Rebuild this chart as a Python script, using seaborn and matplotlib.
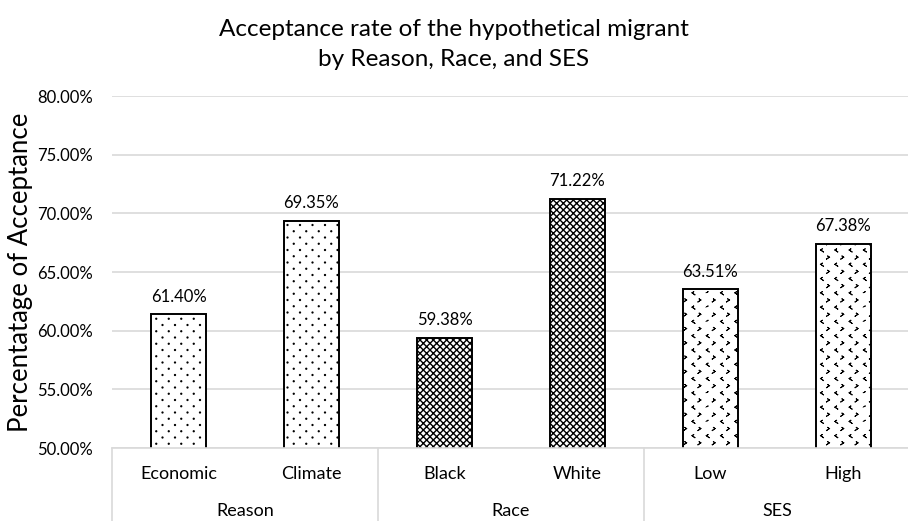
import warnings

import matplotlib
matplotlib.use("Agg")
import matplotlib.pyplot as plt
import matplotlib.hatch as mhatch
import matplotlib.transforms as mtransforms
from matplotlib.path import Path
import numpy as np
import pandas as pd
import seaborn as sns

# ---- data -------------------------------------------------------------
categories = ["Economic", "Climate", "Black", "White", "Low", "High"]
groups = ["Reason", "Reason", "Race", "Race", "SES", "SES"]
acceptance = [61.40, 69.35, 59.38, 71.22, 63.51, 67.38]
y_ticks = [50, 55, 60, 65, 70, 75, 80]

title = "Acceptance rate of the hypothetical migrant\nby Reason, Race, and SES"
y_label = "Percentatage of Acceptance"


# ---- custom staggered-lattice hatches ---------------------------------
class LatticeHatch(mhatch.HatchPatternBase):
    """Staggered lattice of small marks; rows/cols are per hatch tile."""
    char = None
    rows = 16
    cols = 8

    def __init__(self, hatch, density):
        n = hatch.count(self.char) if self.char else 0
        if n == 0:
            self.num_vertices = 0
            return
        self.R = self.rows * n
        self.C = self.cols * n
        n_shapes = sum(self.C + 1 if i % 2 == 0 else self.C for i in range(self.R + 1))
        self.num_vertices = n_shapes * len(self.shape(0)[0])

    def set_vertices_and_codes(self, vertices, codes):
        dx = 1.0 / self.C
        v_parts, c_parts = [], []
        for i, y in enumerate(np.linspace(0.0, 1.0, self.R + 1)):
            if i % 2 == 0:
                xs = np.linspace(0.0, 1.0, self.C + 1)
            else:
                xs = np.linspace(dx / 2, 1 - dx / 2, self.C)
            v, c = self.shape(i)
            for x in xs:
                v_parts.append(v + np.array([x, y]))
                c_parts.append(c)
        vertices[:] = np.concatenate(v_parts)
        codes[:] = np.concatenate(c_parts)


class DotHatch(LatticeHatch):
    char = ","
    rows = 16
    cols = 8

    def shape(self, i):
        circ = Path.unit_circle()
        return circ.vertices * 0.005, circ.codes


class ChevronHatch(LatticeHatch):
    char = "<"
    rows = 14
    cols = 7

    def shape(self, i):
        w, h = 0.008, 0.011
        s = 1 if i % 2 == 0 else -1
        a, b, c = [-s * w, h], [s * w, 0.0], [-s * w, -h]
        # out and back along the same strokes so the mark has no filled area
        v = np.array([a, b, c, b, a])
        codes = np.array([Path.MOVETO] + [Path.LINETO] * 4, dtype=Path.code_type)
        return v, codes


for cls in (DotHatch, ChevronHatch):
    if cls not in mhatch._hatch_types:
        mhatch._hatch_types.append(cls)
warnings.filterwarnings("ignore", message=".*hatch must consist.*")

hatches = [",", ",", "xxxxx", "xxxxx", "<", "<"]
hatch_widths = [0.9, 0.9, 1.0, 1.0, 0.7, 0.7]

df = pd.DataFrame({"category": categories, "group": groups, "value": acceptance})

# ---- style ------------------------------------------------------------
sns.set_theme(style="white")
plt.rcParams["font.family"] = ["Lato", "DejaVu Sans"]
plt.rcParams["hatch.linewidth"] = 0.9

fig = plt.figure(figsize=(9.08, 5.21), dpi=100)
ax = fig.add_axes([112 / 908, 1 - 448 / 521, 798 / 908, 352 / 521])

sns.barplot(data=df, x="category", y="value", color="white",
            edgecolor="black", linewidth=1.4, width=0.41, ax=ax)

for patch, h, hw in zip(ax.patches, hatches, hatch_widths):
    patch.set_hatch(h)
    patch.set_facecolor("white")
    patch.set_edgecolor("black")
    if hasattr(patch, "set_hatch_linewidth"):
        patch.set_hatch_linewidth(hw)

# value labels above each bar
for i, v in enumerate(df["value"]):
    ax.annotate(f"{v:.2f}%", xy=(i, v), xytext=(0, 7), textcoords="offset points",
                ha="center", va="bottom", fontsize=12, color="black")

ax.set_ylim(50, 80)
ax.set_yticks(y_ticks)
ax.set_yticklabels([f"{t:.2f}%" for t in y_ticks], fontsize=12, color="black")
ax.yaxis.grid(True, color="#d9d9d9", linewidth=1.2)
ax.set_axisbelow(True)
ax.tick_params(axis="y", length=0, pad=14)
ax.tick_params(axis="x", length=0, pad=13, labelsize=13, labelcolor="black")
ax.set_xlim(-0.5, 5.5)
ax.set_xlabel("")
ax.set_ylabel(y_label, fontsize=18.5, color="black", labelpad=3)

for side in ["left", "right", "top"]:
    ax.spines[side].set_visible(False)
ax.spines["bottom"].set_color("#d9d9d9")
ax.spines["bottom"].set_linewidth(1.2)

# two-level category axis: group names and separators below the ticks
trans = mtransforms.blended_transform_factory(ax.transData, ax.transAxes)
group_names = list(dict.fromkeys(groups))
positions = np.arange(len(categories))
for g in group_names:
    idx = positions[np.array(groups) == g]
    ax.text(idx.mean(), -0.178, g, transform=trans, ha="center", va="center",
            fontsize=13, color="black")
bounds = [-0.5] + [i + 0.5 for i in range(len(groups) - 1) if groups[i] != groups[i + 1]] + [5.5]
for b in bounds:
    ax.plot([b, b], [0, -0.22], transform=trans, color="#d9d9d9",
            linewidth=1.2, clip_on=False)

fig.text(0.5, 1 - 19 / 521, title, ha="center", va="top", fontsize=17.5,
         color="black", linespacing=1.5)

fig.savefig("out.png", dpi=100)
